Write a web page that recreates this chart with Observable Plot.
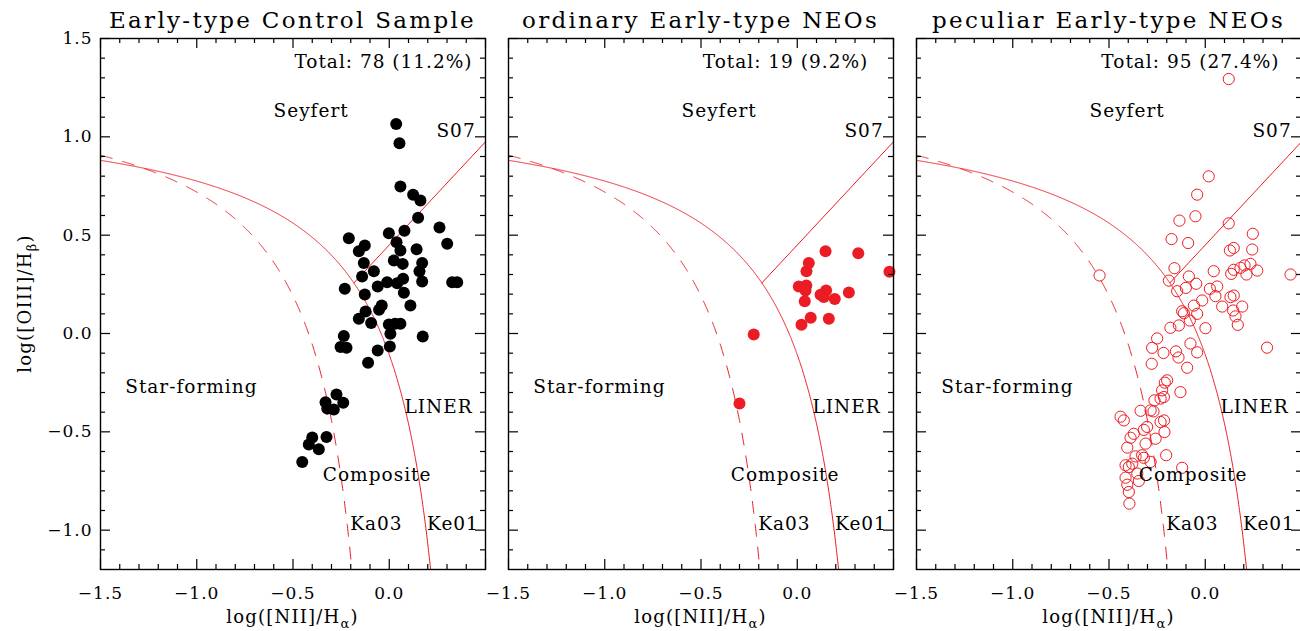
<!DOCTYPE html>
<html><head><meta charset="utf-8">
<script src="https://cdn.jsdelivr.net/npm/d3@7"></script>
<script src="https://cdn.jsdelivr.net/npm/@observablehq/plot@0.6"></script>
<style>
html,body{margin:0;padding:0;background:#fff;}
#wrap{position:relative;width:1300px;height:631px;overflow:hidden;background:#fff;}
#wrap svg{position:absolute;top:0;}
</style></head><body><div id="wrap"></div>
<script>
// ---------- data ----------
const panelTitles = ["Early-type Control Sample", "ordinary Early-type NEOs", "peculiar Early-type NEOs"];
const totalTexts = ["Total: 78 (11.2%)", "Total: 19 (9.2%)", "Total: 95 (27.4%)"];
const totalX = [-0.030, -0.061, -0.077];
const totalY = [1.38, 1.38, 1.38];

const regionLabels = [
  {text: "Seyfert", x: -0.406, y: 1.13},
  {text: "S07", x: 0.347, y: 1.028},
  {text: "Star-forming", x: -1.028, y: -0.274},
  {text: "LINER", x: 0.256, y: -0.374},
  {text: "Composite", x: -0.063, y: -0.721},
  {text: "Ka03", x: -0.067, y: -0.971},
  {text: "Ke01", x: 0.331, y: -0.971}
];

const xMajorTicks = [-1.5, -1.0, -0.5, 0.0, 0.5];
const xMinorTicks = [-1.4, -1.3, -1.2, -1.1, -0.9, -0.8, -0.7, -0.6, -0.4, -0.3, -0.2, -0.1, 0.1, 0.2, 0.3, 0.4];
const xTickLabels = [-1.5, -1.0, -0.5, 0.0];
const yMajorTicks = [-1.0, -0.5, 0.0, 0.5, 1.0, 1.5];
const yMinorTicks = [-1.1, -0.9, -0.8, -0.7, -0.6, -0.4, -0.3, -0.2, -0.1, 0.1, 0.2, 0.3, 0.4, 0.6, 0.7, 0.8, 0.9, 1.1, 1.2, 1.3, 1.4];
const yTickLabels = [-1.0, -0.5, 0.0, 0.5, 1.0, 1.5];

// demarcation lines (published coefficients)
const ke01 = {a: 0.61, b: 0.47, c: 1.19};   // Kewley+01: y = a/(x-b)+c
const ka03 = {a: 0.61, b: 0.05, c: 1.30};   // Kauffmann+03
const s07  = {m: 1.05, k: 0.45};            // Schawinski+07: y = m x + k

// [log NII/Ha, log OIII/Hb]
const control = [
[0.036,1.065],[0.053,0.967],[0.058,0.747],[0.124,0.706],[0.162,0.676],[0.150,0.588],[0.261,0.539],[0.301,0.456],
[-0.210,0.484],[-0.002,0.510],[0.079,0.523],[-0.127,0.447],[-0.158,0.418],[0.038,0.464],[0.058,0.422],[0.142,0.428],
[-0.132,0.359],[0.024,0.371],[0.070,0.354],[0.171,0.359],[0.157,0.317],[-0.080,0.317],[-0.141,0.290],[0.072,0.278],
[0.041,0.256],[-0.011,0.261],[-0.060,0.239],[0.171,0.264],[0.327,0.261],[0.353,0.261],[-0.231,0.227],[-0.127,0.198],
[0.076,0.207],[-0.039,0.142],[-0.053,0.121],[0.110,0.142],[-0.123,0.112],[-0.158,0.075],[-0.094,0.053],[-0.002,0.046],
[0.030,0.050],[0.058,0.050],[0.006,-0.001],[0.174,-0.015],[-0.236,-0.013],[-0.253,-0.069],[-0.222,-0.072],[-0.060,-0.086],
[0.003,-0.066],[-0.110,-0.149],
[-0.274,-0.310],[-0.331,-0.349],[-0.239,-0.352],[-0.322,-0.382],[-0.288,-0.387],
[-0.400,-0.529],[-0.326,-0.526],[-0.418,-0.565],[-0.366,-0.589],[-0.452,-0.653]
];
const ordinary = [
[0.147,0.418],[0.317,0.408],[0.479,0.314],[0.060,0.359],[0.048,0.317],[0.008,0.239],[0.047,0.244],[0.043,0.219],
[0.039,0.164],[0.121,0.197],[0.150,0.219],[0.138,0.185],[0.195,0.176],[0.268,0.208],[0.070,0.080],[0.022,0.044],
[0.164,0.075],[-0.226,-0.005],[-0.300,-0.356]
];
const peculiar = [
[0.122,1.294],[0.018,0.799],[-0.042,0.706],[-0.051,0.596],[-0.134,0.574],[0.122,0.560],[0.247,0.507],[-0.175,0.480],
[-0.089,0.460],[0.244,0.427],[0.128,0.422],[0.148,0.435],[-0.160,0.332],[-0.189,0.269],[-0.085,0.290],[-0.047,0.253],
[-0.101,0.232],[-0.146,0.215],[0.044,0.317],[0.135,0.303],[0.148,0.324],[0.183,0.334],[0.204,0.346],[0.235,0.354],
[0.270,0.320],[0.214,0.300],[0.443,0.300],[-0.549,0.295],[0.024,0.227],[0.062,0.239],[0.053,0.190],[-0.016,0.168],
[-0.059,0.142],[0.131,0.185],[0.148,0.193],[0.088,0.137],[0.192,0.137],[0.145,0.117],[0.157,0.087],[0.169,0.044],
[-0.120,0.113],[-0.111,0.103],[-0.042,0.100],[-0.080,0.066],[-0.137,0.041],[-0.181,0.029],[0.001,0.027],[-0.250,-0.025],
[-0.077,-0.051],[-0.276,-0.073],[-0.217,-0.099],[-0.152,-0.091],[-0.042,-0.096],[0.321,-0.072],[-0.139,-0.122],[-0.094,-0.174],
[-0.278,-0.154],[-0.210,-0.250],[-0.198,-0.238],[-0.224,-0.289],[-0.215,-0.323],[-0.232,-0.331],[-0.129,-0.298],[-0.264,-0.340],
[-0.336,-0.393],[-0.284,-0.391],[-0.269,-0.396],[-0.440,-0.423],[-0.423,-0.442],[-0.232,-0.450],[-0.214,-0.442],[-0.302,-0.475],
[-0.319,-0.490],[-0.371,-0.510],[-0.388,-0.530],[-0.258,-0.535],[-0.212,-0.501],[-0.310,-0.560],[-0.405,-0.580],[-0.362,-0.625],
[-0.328,-0.619],[-0.319,-0.632],[-0.203,-0.619],[-0.284,-0.653],[-0.414,-0.670],[-0.397,-0.679],[-0.379,-0.662],[-0.120,-0.683],
[-0.353,-0.712],[-0.414,-0.733],[-0.345,-0.750],[-0.405,-0.769],[-0.397,-0.806],[-0.394,-0.865]
];

// ---------- layout ----------
const RED = "#ec1c24";
const FONT = "DejaVu Serif";
const W = 500, H = 631, mL = 100, mR = 15, mT = 38, mB = 62;
const fw = W - mL - mR, fh = H - mT - mB;
const offsets = [0, 408, 816];

const xDomain = [-1.5, 0.5], yDomain = [-1.2, 1.5];

function curve(p) {
  const f = x => p.a / (x - p.b) + p.c;
  const xEnd = p.b + p.a / (yDomain[0] - p.c);
  const xs = d3.range(xDomain[0], xEnd, 0.002).concat([xEnd]);
  return xs.map(x => ({x, y: f(x)}));
}
const ke01Pts = curve(ke01);
const ka03Pts = curve(ka03);
// S07 from its intersection with Ke01
const qa = s07.m, qb = s07.k - ke01.c - s07.m * ke01.b, qc = -(s07.k - ke01.c) * ke01.b - ke01.a;
const xInt = (-qb - Math.sqrt(qb * qb - 4 * qa * qc)) / (2 * qa);
const s07Pts = [xInt, xDomain[1]].map(x => ({x, y: s07.m * x + s07.k}));

const datasets = [control, ordinary, peculiar];

function makePanel(i) {
  const pts = datasets[i];
  const dotOpts = i === 0 ? {fill: "#000", r: 6}
    : i === 1 ? {fill: RED, r: 6}
    : {fill: "none", stroke: RED, strokeWidth: 1, r: 5.6};
  const tk = {stroke: "#000", strokeWidth: 1.2};
  const marks = [
    Plot.line(ke01Pts, {x: "x", y: "y", stroke: RED, strokeWidth: 1, clip: true}),
    Plot.line(ka03Pts, {x: "x", y: "y", stroke: RED, strokeWidth: 1, strokeDasharray: "12,11", clip: true}),
    Plot.line(s07Pts, {x: "x", y: "y", stroke: RED, strokeWidth: 1, clip: true}),
    Plot.dot(pts, {x: d => d[0], y: d => d[1], ...dotOpts}),
    Plot.ruleX(xMajorTicks, {x: d => d, insetTop: fh - 10, ...tk}),
    Plot.ruleX(xMajorTicks, {x: d => d, insetBottom: fh - 10, ...tk}),
    Plot.ruleX(xMinorTicks, {x: d => d, insetTop: fh - 5, ...tk}),
    Plot.ruleX(xMinorTicks, {x: d => d, insetBottom: fh - 5, ...tk}),
    Plot.ruleY(yMajorTicks, {y: d => d, insetRight: fw - 10, ...tk}),
    Plot.ruleY(yMajorTicks, {y: d => d, insetLeft: fw - 10, ...tk}),
    Plot.ruleY(yMinorTicks, {y: d => d, insetRight: fw - 5, ...tk}),
    Plot.ruleY(yMinorTicks, {y: d => d, insetLeft: fw - 5, ...tk}),
    Plot.frame({stroke: "#000", strokeWidth: 1.4}),
    Plot.text(regionLabels, {x: "x", y: "y", text: "text", fontSize: 18.5, fill: "#000"}),
    Plot.text([{t: totalTexts[i], x: totalX[i], y: totalY[i]}], {x: "x", y: "y", text: "t", fontSize: 18.5, fill: "#000"}),
    Plot.axisX({ticks: xTickLabels, tickSize: 0, tickPadding: 17, tickFormat: ".1f", fontSize: 17, label: null})
  ];
  if (i === 0) marks.push(Plot.axisY({ticks: yTickLabels, tickSize: 0, tickPadding: 8, tickFormat: ".1f", fontSize: 17, label: null}));
  const svg = Plot.plot({
    width: W, height: H,
    marginLeft: mL, marginRight: mR, marginTop: mT, marginBottom: mB,
    x: {domain: xDomain},
    y: {domain: yDomain, axis: i === 0 ? undefined : null},
    style: {background: "transparent", fontFamily: FONT, fontSize: "17px", letterSpacing: "1px", overflow: "visible"},
    marks
  });
  const s = d3.select(svg);
  const cx = mL + fw / 2;
  // title
  s.append("text").attr("x", cx).attr("y", 28).attr("text-anchor", "middle")
    .attr("font-size", 23).attr("letter-spacing", "2.3px").attr("fill", "#000").text(panelTitles[i]);
  // x label
  const xl = s.append("text").attr("x", cx).attr("y", 623).attr("text-anchor", "middle")
    .attr("font-size", 18).attr("letter-spacing", "1.2px").attr("fill", "#000");
  xl.append("tspan").text("log([NII]/H");
  xl.append("tspan").attr("dy", 5).attr("font-size", 13).text("α");
  xl.append("tspan").attr("dy", -5).text(")");
  if (i === 0) {
    const yl = s.append("text").attr("transform", `translate(31,${mT + fh / 2}) rotate(-90)`)
      .attr("text-anchor", "middle").attr("font-size", 18).attr("letter-spacing", "1.2px").attr("fill", "#000");
    yl.append("tspan").text("log([OIII]/H");
    yl.append("tspan").attr("dy", 5).attr("font-size", 13).text("β");
    yl.append("tspan").attr("dy", -5).text(")");
  }
  svg.style.left = offsets[i] + "px";
  return svg;
}

const wrap = document.getElementById("wrap");
[0, 1, 2].forEach(i => wrap.appendChild(makePanel(i)));
</script>
</body></html>
